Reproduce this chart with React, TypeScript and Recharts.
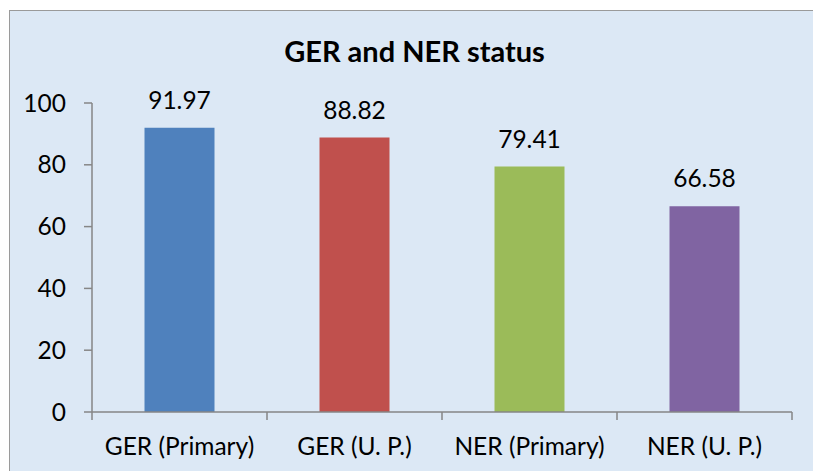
import React from "react";
import { BarChart, Bar, XAxis, YAxis, Cell, LabelList } from "recharts";

const categories = ["GER (Primary)", "GER (U. P.)", "NER (Primary)", "NER (U. P.)"];
const values = [91.97, 88.82, 79.41, 66.58];
const colors = ["#4F81BD", "#C0504D", "#9BBB59", "#8064A2"];
const yTicks = [0, 20, 40, 60, 80, 100];

const data = categories.map((name, i) => ({ name, value: values[i] }));

const FONT = "Lato, 'Open Sans', sans-serif";
const W = 813;
const H = 471;
const PLOT_LEFT = 92;
const PLOT_RIGHT = 21;
const BAND = (W - PLOT_LEFT - PLOT_RIGHT) / categories.length;

const XTick = (props: any) => {
  const { x, y, payload, index } = props;
  const left = x - BAND / 2;
  const right = x + BAND / 2;
  return (
    <g>
      <line x1={left} y1={y} x2={left} y2={y + 8} stroke="#868686" strokeWidth={1.5} />
      {index === categories.length - 1 && (
        <line x1={right} y1={y} x2={right} y2={y + 8} stroke="#868686" strokeWidth={1.5} />
      )}
      <text x={x} y={y + 43} textAnchor="middle" fontFamily={FONT} fontSize={24.5} fill="#000">
        {payload.value}
      </text>
    </g>
  );
};

export default function App() {
  return (
    <div style={{ position: "absolute", left: 0, top: 0, width: W, height: H, overflow: "hidden", background: "#fff" }}>
      <div
        style={{
          position: "absolute",
          left: 9,
          top: 10,
          width: W + 20,
          height: H + 20,
          background: "#dce8f5",
          border: "1.5px solid #9a9a9a",
        }}
      />
      <div
        style={{
          position: "absolute",
          left: 0,
          top: 36,
          width: 829,
          textAlign: "center",
          fontFamily: FONT,
          fontWeight: 700,
          fontSize: 29,
          lineHeight: 1,
          color: "#000",
        }}
      >
        GER and NER status
      </div>
      <div style={{ position: "absolute", left: 0, top: 0 }}>
        <BarChart
          width={W}
          height={H}
          data={data}
          margin={{ top: 103, right: PLOT_RIGHT, bottom: 0, left: 0 }}
          barCategoryGap="30%"
        >
          <XAxis
            dataKey="name"
            height={59}
            tickLine={false}
            tickSize={0}
            tickMargin={0}
            axisLine={{ stroke: "#868686", strokeWidth: 1.5 }}
            tick={<XTick />}
            interval={0}
          />
          <YAxis
            domain={[0, 100]}
            ticks={yTicks}
            width={PLOT_LEFT}
            tickSize={8}
            tickMargin={18}
            axisLine={{ stroke: "#868686", strokeWidth: 1.5 }}
            tickLine={{ stroke: "#868686", strokeWidth: 1.5 }}
            tick={{ fontFamily: FONT, fontSize: 24.5, fill: "#000" }}
          />
          <Bar dataKey="value" isAnimationActive={false}>
            {data.map((d, i) => (
              <Cell key={d.name} fill={colors[i]} />
            ))}
            <LabelList
              dataKey="value"
              position="top"
              offset={19}
              style={{ fontFamily: FONT, fontSize: 24.5, fill: "#000" }}
              formatter={(v: any) => Number(v).toFixed(2)}
            />
          </Bar>
        </BarChart>
      </div>
    </div>
  );
}
